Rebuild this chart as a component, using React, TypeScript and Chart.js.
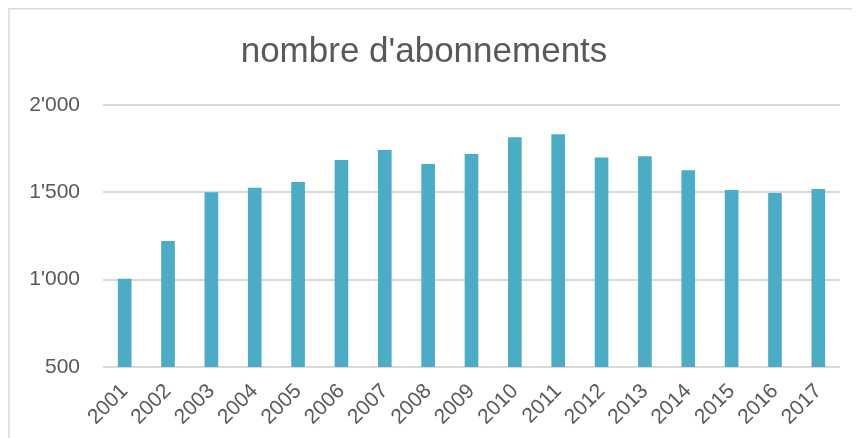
import React, { useEffect, useRef } from "react";
import { Chart, registerables } from "chart.js";

Chart.register(...registerables);

const chartTitle = "nombre d'abonnements";
const years = ["2001", "2002", "2003", "2004", "2005", "2006", "2007", "2008", "2009", "2010", "2011", "2012", "2013", "2014", "2015", "2016", "2017"];
const subscriptions = [1005, 1222, 1500, 1526, 1559, 1685, 1742, 1662, 1719, 1816, 1833, 1700, 1706, 1626, 1513, 1496, 1519];
const yTickValues = [500, 1000, 1500, 2000];

const BAR_COLOR = "#4BACC6";
const TEXT_COLOR = "#595959";
const GRID_COLOR = "#d9d9d9";
const FONT = "'Liberation Sans', Arial, sans-serif";

function formatThousands(v: number): string {
  if (v < 1000) return String(v);
  const th = Math.floor(v / 1000);
  const rest = String(v % 1000).padStart(3, "0");
  return `${th}'${rest}`;
}

const frameBorder = {
  id: "frameBorder",
  beforeDraw(chart: any) {
    const ctx = chart.ctx;
    ctx.save();
    ctx.strokeStyle = GRID_COLOR;
    ctx.lineWidth = 1.5;
    ctx.beginPath();
    ctx.moveTo(1, chart.height);
    ctx.lineTo(1, 0.75);
    ctx.lineTo(chart.width, 0.75);
    ctx.stroke();
    ctx.restore();
  },
};

export default function App() {
  const canvasRef = useRef<HTMLCanvasElement | null>(null);

  useEffect(() => {
    if (!canvasRef.current) return;
    const chart = new Chart(canvasRef.current, {
      type: "bar",
      data: {
        labels: years,
        datasets: [
          {
            label: chartTitle,
            data: subscriptions,
            backgroundColor: BAR_COLOR,
            borderWidth: 0,
            barPercentage: 0.315,
            categoryPercentage: 1,
          },
        ],
      },
      options: {
        responsive: false,
        animation: false,
        layout: { padding: { left: 0, right: 20, top: 0, bottom: 0 } },
        plugins: {
          legend: { display: false },
          tooltip: { enabled: false },
          title: {
            display: true,
            text: chartTitle,
            color: TEXT_COLOR,
            font: { family: FONT, size: 35, weight: "normal" },
            padding: { top: 23, bottom: 32 },
          },
        },
        scales: {
          x: {
            grid: { display: false, drawTicks: false },
            border: { display: false },
            ticks: {
              color: TEXT_COLOR,
              font: { family: FONT, size: 21 },
              minRotation: 45,
              maxRotation: 45,
              padding: 12,
              autoSkip: false,
            },
            afterFit(scale: any) {
              scale.height = 71;
            },
          },
          y: {
            min: 500,
            max: 2000,
            grid: { color: GRID_COLOR, lineWidth: 2, drawTicks: false },
            border: { display: false },
            ticks: {
              color: TEXT_COLOR,
              font: { family: FONT, size: 21 },
              padding: 23,
              callback: (v: any) => formatThousands(Number(v)),
            },
            afterBuildTicks(scale: any) {
              scale.ticks = yTickValues.map((v) => ({ value: v }));
            },
            afterFit(scale: any) {
              scale.width = 95;
            },
          },
        },
      },
      plugins: [frameBorder],
    });
    return () => chart.destroy();
  }, []);

  return (
    <div style={{ width: 852, height: 430 }}>
      <canvas ref={canvasRef} width={852} height={430} style={{ display: "block" }} />
    </div>
  );
}
